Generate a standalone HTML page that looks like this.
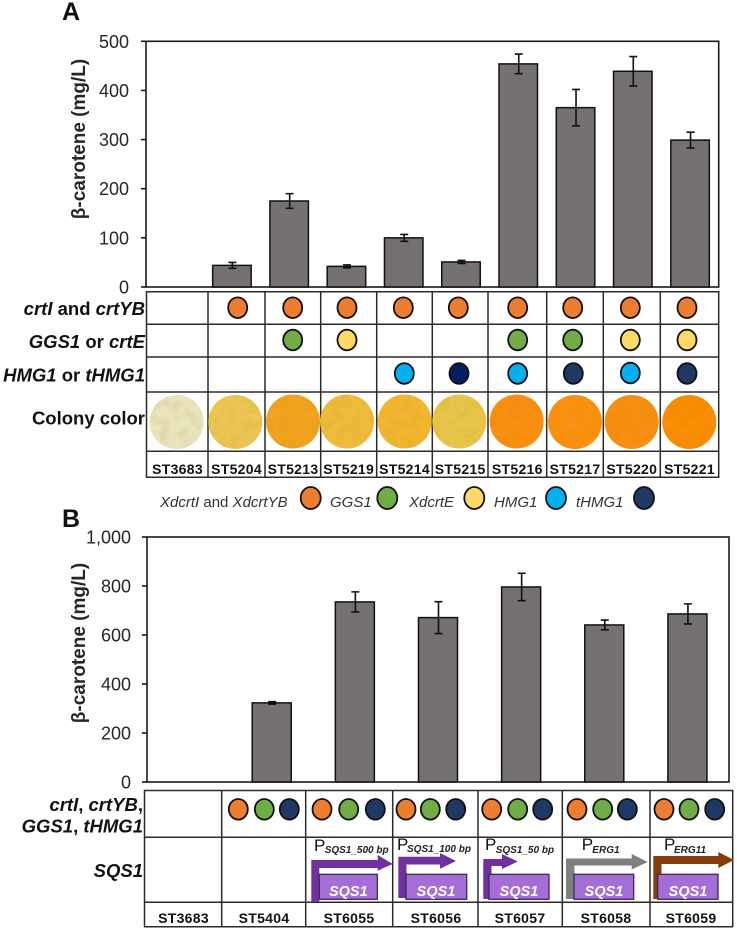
<!DOCTYPE html>
<html lang="en">
<head>
<meta charset="utf-8">
<title>Beta-carotene production by engineered strains</title>
<style>
html,body{margin:0;padding:0;background:#fff;}
svg{display:block;font-family:"Liberation Sans",Arial,sans-serif;filter:blur(.3px);}
.grid line{stroke:#2b2b2b;stroke-width:1.5;}
.tick{font-size:18px;fill:#262626;text-anchor:end;}
.ytitle{font-size:19px;font-weight:bold;fill:#262626;text-anchor:middle;}
.row{font-size:18.5px;font-weight:bold;fill:#111;text-anchor:end;}
.st{font-size:14px;font-weight:bold;fill:#111;text-anchor:middle;letter-spacing:.3px;}
.leg{font-size:15px;font-style:italic;fill:#333;}
.dot{stroke:#111;stroke-width:1.8;}
.o{fill:#ed7d31;}.g{fill:#70ad47;}.y{fill:#ffd966;}.c{fill:#00b0f0;}.n{fill:#1f3864;}.n2{fill:#002060;}
.pro{font-size:17px;fill:#111;}
.prosub{font-size:10px;font-weight:bold;font-style:italic;fill:#222;}
.gene{fill:#a56ed6;stroke:#3b2a58;stroke-width:1.3;}
.genet{font-size:14.5px;font-weight:bold;font-style:italic;fill:#fff;text-anchor:middle;}
</style>
</head>
<body>
<svg id="figure" width="737" height="929" viewBox="0 0 737 929" xmlns="http://www.w3.org/2000/svg">
<defs>
<filter id="tex" x="-5%" y="-5%" width="110%" height="110%">
<feTurbulence type="fractalNoise" baseFrequency="0.1" numOctaves="2" seed="4" result="n"/>
<feColorMatrix in="n" type="matrix" values="0 0 0 0 .55  0 0 0 0 .32  0 0 0 0 0  0 0 0 .5 -.2" result="d"/>
<feComposite in="d" in2="SourceGraphic" operator="in" result="dd"/>
<feMerge><feMergeNode in="SourceGraphic"/><feMergeNode in="dd"/></feMerge>
</filter>
</defs>
<rect width="737" height="929" fill="#fff"/>

<text x="62" y="20" font-size="25" font-weight="bold" fill="#111">A</text>
<text x="62" y="527" font-size="25" font-weight="bold" fill="#111">B</text>

<text class="ytitle" transform="translate(85,139) rotate(-90)">β-carotene (mg/L)</text>
<text class="ytitle" transform="translate(85,643) rotate(-90)">β-carotene (mg/L)</text>

<g id="chartA"></g>
<g id="chartB"></g>

<g class="grid">
<line x1="146" x2="719" y1="291.7" y2="291.7"/><line x1="146" x2="719" y1="324.3" y2="324.3"/><line x1="146" x2="719" y1="357" y2="357"/><line x1="146" x2="719" y1="392" y2="392"/><line x1="146" x2="719" y1="451.3" y2="451.3"/><line x1="146" x2="719" y1="477.3" y2="477.3"/>
<line x1="146.5" x2="146.5" y1="291" y2="478"/><line x1="208" x2="208" y1="291" y2="478"/><line x1="265" x2="265" y1="291" y2="478"/><line x1="320.7" x2="320.7" y1="291" y2="478"/><line x1="376.7" x2="376.7" y1="291" y2="478"/><line x1="432.3" x2="432.3" y1="291" y2="478"/><line x1="488" x2="488" y1="291" y2="478"/><line x1="546.7" x2="546.7" y1="291" y2="478"/><line x1="603.3" x2="603.3" y1="291" y2="478"/><line x1="660.3" x2="660.3" y1="291" y2="478"/><line x1="718.7" x2="718.7" y1="291" y2="478"/>
</g>

<g>
<text class="row" x="145" y="315"><tspan font-style="italic">crtI</tspan> and <tspan font-style="italic">crtYB</tspan></text>
<text class="row" x="145" y="348"><tspan font-style="italic">GGS1</tspan> or <tspan font-style="italic">crtE</tspan></text>
<text class="row" x="145" y="381.5"><tspan font-style="italic">HMG1</tspan> or <tspan font-style="italic">tHMG1</tspan></text>
<text class="row" x="145" y="424.5">Colony color</text>
</g>

<g>
<ellipse class="dot o" cx="237.7" cy="307.7" rx="9.5" ry="10.3"/>
<ellipse class="dot o" cx="292.7" cy="307.7" rx="9.5" ry="10.3"/>
<ellipse class="dot o" cx="347" cy="307.7" rx="9.5" ry="10.3"/>
<ellipse class="dot o" cx="403.3" cy="307.7" rx="9.5" ry="10.3"/>
<ellipse class="dot o" cx="458.3" cy="307.7" rx="9.5" ry="10.3"/>
<ellipse class="dot o" cx="517.7" cy="307.7" rx="9.5" ry="10.3"/>
<ellipse class="dot o" cx="572.7" cy="307.7" rx="9.5" ry="10.3"/>
<ellipse class="dot o" cx="630.3" cy="307.7" rx="9.5" ry="10.3"/>
<ellipse class="dot o" cx="687" cy="307.7" rx="9.5" ry="10.3"/>
<ellipse class="dot g" cx="292.7" cy="340" rx="9.5" ry="10.3"/>
<ellipse class="dot y" cx="347" cy="340" rx="9.5" ry="10.3"/>
<ellipse class="dot g" cx="517.7" cy="340" rx="9.5" ry="10.3"/>
<ellipse class="dot g" cx="572.7" cy="340" rx="9.5" ry="10.3"/>
<ellipse class="dot y" cx="630.3" cy="340" rx="9.5" ry="10.3"/>
<ellipse class="dot y" cx="687" cy="340" rx="9.5" ry="10.3"/>
<ellipse class="dot c" cx="404.3" cy="373.5" rx="9.5" ry="10.3"/>
<ellipse class="dot n2" cx="459" cy="373.5" rx="9.5" ry="10.3"/>
<ellipse class="dot c" cx="517.7" cy="373.5" rx="9.5" ry="10.3"/>
<ellipse class="dot n" cx="573.3" cy="373.5" rx="9.5" ry="10.3"/>
<ellipse class="dot c" cx="630.3" cy="373" rx="9.5" ry="10.3"/>
<ellipse class="dot n" cx="687" cy="373.5" rx="9.5" ry="10.3"/>
</g>

<g filter="url(#tex)">
<circle cx="176.7" cy="422" r="27" fill="#e8e5bd"/>
<circle cx="235.3" cy="422" r="27" fill="#ecc655"/>
<circle cx="293" cy="421.5" r="27" fill="#f3a321"/>
<circle cx="347" cy="421.5" r="27" fill="#efbb3e"/>
<circle cx="404.7" cy="421.5" r="27" fill="#f3b630"/>
<circle cx="459.3" cy="421.5" r="27" fill="#e8c548"/>
<circle cx="516.7" cy="421.5" r="27" fill="#fb8e12"/>
<circle cx="575" cy="422" r="27" fill="#fd9015"/>
<circle cx="631.7" cy="422" r="27" fill="#f98e15"/>
<circle cx="689.3" cy="422" r="27" fill="#fb8c10"/>
</g>

<g>
<text class="st" x="177.5" y="474">ST3683</text>
<text class="st" x="236.5" y="474">ST5204</text>
<text class="st" x="293" y="474">ST5213</text>
<text class="st" x="348.7" y="474">ST5219</text>
<text class="st" x="404.5" y="474">ST5214</text>
<text class="st" x="460.2" y="474">ST5215</text>
<text class="st" x="517.3" y="474">ST5216</text>
<text class="st" x="575" y="474">ST5217</text>
<text class="st" x="631.8" y="474">ST5220</text>
<text class="st" x="689.5" y="474">ST5221</text>
</g>

<g>
<text class="leg" x="160" y="507">XdcrtI <tspan font-style="normal">and</tspan> XdcrtYB</text>
<ellipse class="dot o" cx="310.7" cy="498" rx="10" ry="11"/>
<text class="leg" x="330" y="507">GGS1</text>
<ellipse class="dot g" cx="387.3" cy="498" rx="10" ry="11"/>
<text class="leg" x="409" y="507">XdcrtE</text>
<ellipse class="dot y" cx="474.3" cy="498" rx="10" ry="11"/>
<text class="leg" x="494" y="507">HMG1</text>
<ellipse class="dot c" cx="556" cy="498" rx="10" ry="11"/>
<text class="leg" x="576" y="507">tHMG1</text>
<ellipse class="dot n" cx="644" cy="498" rx="10" ry="11"/>
</g>

<g class="grid">
<line x1="144" x2="733" y1="790.5" y2="790.5"/><line x1="144" x2="733" y1="837.3" y2="837.3"/><line x1="144" x2="733" y1="902.3" y2="902.3"/><line x1="144" x2="733" y1="926.7" y2="926.7"/>
<line x1="144.5" x2="144.5" y1="790" y2="927"/><line x1="221.7" x2="221.7" y1="790" y2="927"/><line x1="305.7" x2="305.7" y1="790" y2="927"/><line x1="392.7" x2="392.7" y1="790" y2="927"/><line x1="478" x2="478" y1="790" y2="927"/><line x1="562.3" x2="562.3" y1="790" y2="927"/><line x1="650" x2="650" y1="790" y2="927"/><line x1="732.7" x2="732.7" y1="790" y2="927"/>
</g>

<g>
<text class="row" x="143" y="811"><tspan font-style="italic">crtI</tspan>, <tspan font-style="italic">crtYB</tspan>,</text>
<text class="row" x="143" y="832.5"><tspan font-style="italic">GGS1</tspan>, <tspan font-style="italic">tHMG1</tspan></text>
<text class="row" x="143" y="877" font-style="italic">SQS1</text>
</g>

<g>
<ellipse class="dot o" cx="238.3" cy="809.3" rx="9.5" ry="10.3"/>
<ellipse class="dot g" cx="264.3" cy="809.3" rx="9.5" ry="10.3"/>
<ellipse class="dot n" cx="289.3" cy="809.3" rx="9.5" ry="10.3"/>
<ellipse class="dot o" cx="322" cy="809.3" rx="9.5" ry="10.3"/>
<ellipse class="dot g" cx="348.7" cy="809.3" rx="9.5" ry="10.3"/>
<ellipse class="dot n" cx="375.3" cy="809.3" rx="9.5" ry="10.3"/>
<ellipse class="dot o" cx="406" cy="809.3" rx="9.5" ry="10.3"/>
<ellipse class="dot g" cx="430.3" cy="809.3" rx="9.5" ry="10.3"/>
<ellipse class="dot n" cx="455.7" cy="809.3" rx="9.5" ry="10.3"/>
<ellipse class="dot o" cx="491.7" cy="809.3" rx="9.5" ry="10.3"/>
<ellipse class="dot g" cx="517.7" cy="809.3" rx="9.5" ry="10.3"/>
<ellipse class="dot n" cx="542.7" cy="809.3" rx="9.5" ry="10.3"/>
<ellipse class="dot o" cx="577" cy="809.3" rx="9.5" ry="10.3"/>
<ellipse class="dot g" cx="602.7" cy="809.3" rx="9.5" ry="10.3"/>
<ellipse class="dot n" cx="627.3" cy="809.3" rx="9.5" ry="10.3"/>
<ellipse class="dot o" cx="664" cy="809.3" rx="9.5" ry="10.3"/>
<ellipse class="dot g" cx="689" cy="809.3" rx="9.5" ry="10.3"/>
<ellipse class="dot n" cx="714.7" cy="809.3" rx="9.5" ry="10.3"/>
</g>

<g>
<text class="pro" x="314" y="851">P</text>
<text class="prosub" x="324.7" y="853">SQS1_500 bp</text>
<path fill="#7030a0" d="M311.3 902V860H377.7V855L392.7 864L377.7 870.7V868H319.3V902Z"/>
<rect class="gene" x="319.3" y="874.3" width="58" height="25"/>
<text class="genet" x="348.3" y="896">SQS1</text>
</g>
<g>
<text class="pro" x="397" y="850">P</text>
<text class="prosub" x="407" y="852">SQS1_100 bp</text>
<path fill="#7030a0" d="M398.3 898V856.7H440V853L456 861L440 868.7V864.5H406.5V898Z"/>
<rect class="gene" x="406" y="874.3" width="60.7" height="25"/>
<text class="genet" x="436" y="896">SQS1</text>
</g>
<g>
<text class="pro" x="485" y="850">P</text>
<text class="prosub" x="495.7" y="853">SQS1_50 bp</text>
<path fill="#7030a0" d="M483.3 899V859H502V854L517.7 861.5L502 869V866H491.5V899Z"/>
<rect class="gene" x="489" y="874.3" width="60" height="25"/>
<text class="genet" x="519" y="896">SQS1</text>
</g>
<g>
<text class="pro" x="581.7" y="850">P</text>
<text class="prosub" x="592.3" y="853">ERG1</text>
<path fill="#7f7f7f" d="M566 899V858.5H631.7V854L647.7 862L631.7 869.5V865.5H574.5V899Z"/>
<rect class="gene" x="574" y="874.3" width="59.7" height="25"/>
<text class="genet" x="604" y="896">SQS1</text>
</g>
<g>
<text class="pro" x="664" y="850">P</text>
<text class="prosub" x="674" y="853">ERG11</text>
<path fill="#843c0c" d="M653.3 899V856H718.3V852L734 860L718.3 868V864H661.5V899Z"/>
<rect class="gene" x="657.7" y="874.3" width="60.3" height="25"/>
<text class="genet" x="688" y="896">SQS1</text>
</g>

<g>
<text class="st" x="183.5" y="923">ST3683</text>
<text class="st" x="264" y="923">ST5404</text>
<text class="st" x="349" y="923">ST6055</text>
<text class="st" x="436" y="923">ST6056</text>
<text class="st" x="520" y="923">ST6057</text>
<text class="st" x="606" y="923">ST6058</text>
<text class="st" x="691" y="923">ST6059</text>
</g>
</svg>

<script>
const categoriesA = ['ST3683','ST5204','ST5213','ST5219','ST5214','ST5215','ST5216','ST5217','ST5220','ST5221'];
const valuesA = [0,44,175,42,100,51,454,365,439,299];
const errorsA = [0,6,15,3,7,3,20,37,30,16];
const yTicksA = [0,100,200,300,400,500];
const yTickLabelsA = ['0','100','200','300','400','500'];

const categoriesB = ['ST3683','ST5404','ST6055','ST6056','ST6057','ST6058','ST6059'];
const valuesB = [0,323,735,671,796,641,686];
const errorsB = [0,5,41,65,56,20,41];
const yTicksB = [0,200,400,600,800,1000];
const yTickLabelsB = ['0','200','400','600','800','1,000'];

const SVGNS = 'http://www.w3.org/2000/svg';

function drawChart(rootId, cats, vals, errs, ticks, tickLabels, box, barW, tickRight) {
  const root = document.getElementById(rootId);
  const yMax = ticks[ticks.length - 1];
  const yScale = v => box.bottom - (v / yMax) * (box.bottom - box.top);
  const xCenter = i => box.left + (box.right - box.left) * (i + 0.5) / cats.length;

  const frame = document.createElementNS(SVGNS, 'rect');
  
  
  frame.setAttribute('x', box.left);
  frame.setAttribute('y', box.top);
  frame.setAttribute('width', box.right - box.left);
  frame.setAttribute('height', box.bottom - box.top);
  frame.setAttribute('fill', '#fff');
  frame.setAttribute('stroke', '#1a1a1a');
  frame.setAttribute('stroke-width', '1.6');
  root.appendChild(frame);

  ticks.forEach((t, i) => {
    const mark = document.createElementNS(SVGNS, 'line');
    
    
    mark.setAttribute('x1', box.left - 5);
    mark.setAttribute('x2', box.left);
    mark.setAttribute('y1', yScale(t));
    mark.setAttribute('y2', yScale(t));
    mark.setAttribute('stroke', '#1a1a1a');
    mark.setAttribute('stroke-width', '1.6');
    root.appendChild(mark);

    const label = document.createElementNS(SVGNS, 'text');
    
    
    label.setAttribute('class', 'tick');
    label.setAttribute('x', tickRight);
    label.setAttribute('y', yScale(t) + 6.5);
    label.textContent = tickLabels[i];
    root.appendChild(label);
  });

  cats.forEach((c, i) => {
    if (vals[i] <= 0) return;
    const cx = xCenter(i);
    const bar = document.createElementNS(SVGNS, 'rect');
    
    
    bar.setAttribute('data-category', c);
    bar.setAttribute('x', cx - barW / 2);
    bar.setAttribute('y', yScale(vals[i]));
    bar.setAttribute('width', barW);
    bar.setAttribute('height', box.bottom - yScale(vals[i]));
    bar.setAttribute('fill', '#767171');
    bar.setAttribute('stroke', '#111');
    bar.setAttribute('stroke-width', '1.5');
    root.appendChild(bar);

    const hi = yScale(vals[i] + errs[i]);
    const lo = yScale(vals[i] - errs[i]);
    const err = document.createElementNS(SVGNS, 'path');
    
    
    err.setAttribute('d', 'M' + (cx + 0.5) + ' ' + hi + 'V' + lo + 'M' + (cx - 3.5) + ' ' + hi + 'h8M' + (cx - 3.5) + ' ' + lo + 'h8');
    err.setAttribute('fill', 'none');
    err.setAttribute('stroke', '#111');
    err.setAttribute('stroke-width', '1.6');
    root.appendChild(err);
  });
}

drawChart('chartA', categoriesA, valuesA, errorsA, yTicksA, yTickLabelsA,
  {left: 146, right: 718.7, top: 41.3, bottom: 287}, 38.5, 129);
drawChart('chartB', categoriesB, valuesB, errorsB, yTicksB, yTickLabelsB,
  {left: 147, right: 729, top: 537, bottom: 782}, 39, 131);
</script>
</body>
</html>
